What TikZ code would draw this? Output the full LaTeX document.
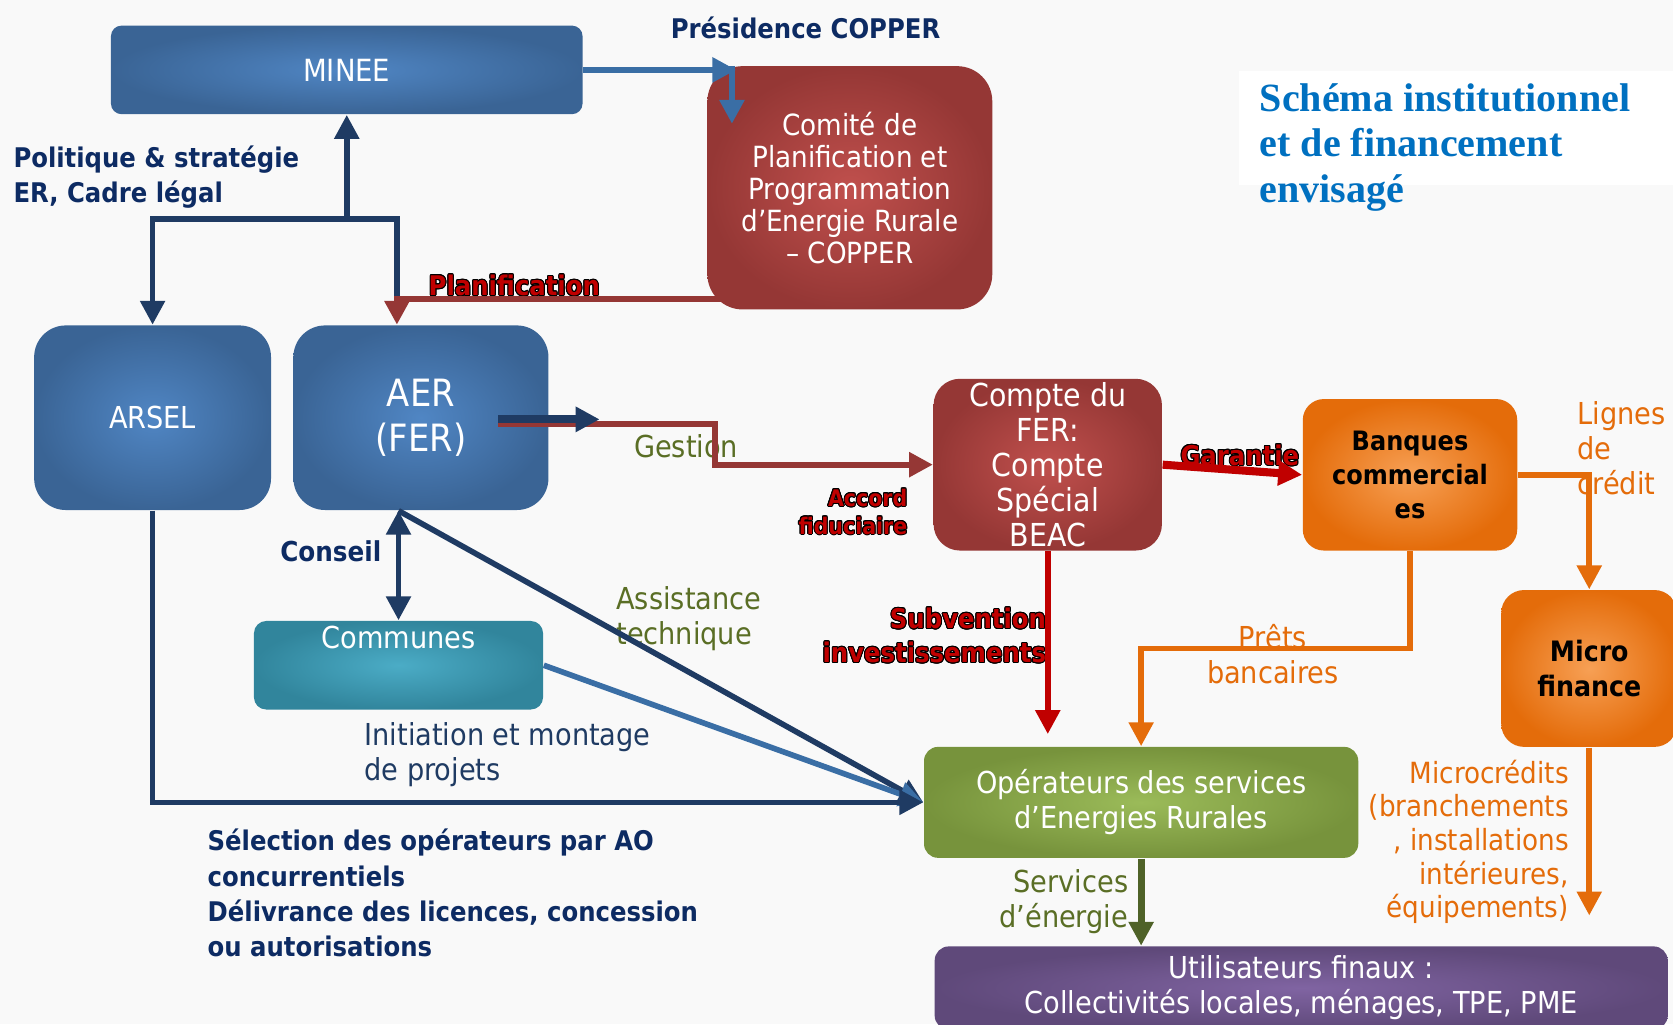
\documentclass[tikz,border=0pt]{standalone}
\usepackage{fontspec}
\setmainfont{DejaVuSansCondensed}[Extension=.ttf, BoldFont=DejaVuSansCondensed-Bold]
\newfontfamily\titlefont{Liberation Serif}
\usepackage{contour}
\contourlength{0.28pt}
\usetikzlibrary{arrows.meta}

\definecolor{navytxt}{HTML}{0D2B63}
\definecolor{navyline}{HTML}{1F3B63}
\definecolor{steelc}{HTML}{3A6EA5}
\definecolor{blueout}{HTML}{3A6495}
\definecolor{bluein}{HTML}{5086C4}
\definecolor{redout}{HTML}{953735}
\definecolor{redin}{HTML}{C0504D}
\definecolor{orout}{HTML}{E46C0A}
\definecolor{orin}{HTML}{F7A055}
\definecolor{grout}{HTML}{77933C}
\definecolor{grin}{HTML}{9BBB59}
\definecolor{puout}{HTML}{5F497A}
\definecolor{puin}{HTML}{8064A2}
\definecolor{teout}{HTML}{31859C}
\definecolor{tein}{HTML}{4BACC6}
\definecolor{darkred}{HTML}{953735}
\definecolor{brightred}{HTML}{C00000}
\definecolor{orangec}{HTML}{E46C0A}
\definecolor{olivel}{HTML}{4F6228}
\definecolor{olivetxt}{HTML}{5A6E25}
\definecolor{titleblue}{HTML}{0070C0}
\definecolor{bgc}{HTML}{F9F9F9}

\newcommand{\dpx}{0.3036pt}
\newcommand{\regf}{\fontsize{8.6}{10}\selectfont}
\newcommand{\boldf}{\fontsize{7.7}{10}\selectfont\bfseries}
\newcommand{\outl}[1]{\contour{black}{#1}}

\begin{document}
\begin{tikzpicture}[x=\dpx, y=-\dpx, >={Triangle[length=6.8pt,width=6.8pt]},
    boxsize/.style 2 args={minimum width=#1*\dpx, minimum height=#2*\dpx},
    anybox/.style={shade, align=center, text=white, inner sep=0pt, font=\regf},
    bluebox/.style={anybox, inner color=bluein, outer color=blueout},
    redbox/.style={anybox, inner color=redin, outer color=redout},
    orbox/.style={anybox, inner color=orin, outer color=orout, text=black},
    greenbox/.style={anybox, inner color=grin, outer color=grout},
    purplebox/.style={anybox, inner color=puin, outer color=puout},
    tealbox/.style={anybox, inner color=tein, outer color=teout},
    lbl/.style={inner sep=0pt, font=\regf},
    navyarr/.style={->, navyline, line width=1.6pt},
    orarr/.style={->, orangec, line width=1.6pt},
    redarr/.style={->, brightred, line width=1.6pt},
    dredarr/.style={->, darkred, line width=1.7pt}]
    \useasboundingbox (0,0) rectangle (1568,960);
    \fill[bgc] (0,0) rectangle (1568,960);
    \fill[white] (1161,67) rectangle (1568,173);

    % boxes
    \node[bluebox, boxsize={442}{83}, rounded corners=3pt, font=\fontsize{8.7}{10}\selectfont] (minee) at (325,65.5) {MINEE};
    \node[redbox, boxsize={267}{228}, rounded corners=10pt, font=\fontsize{8.3}{9.1}\selectfont] (copper) at (796.5,176) {Comité de\\Planification et\\Programmation\\d’Energie Rurale\\– COPPER};
    \node[bluebox, boxsize={222}{173}, rounded corners=9pt] (arsel) at (143,391.5) {ARSEL};
    \node[bluebox, boxsize={239}{173}, rounded corners=9pt, font=\fontsize{10.7}{12.8}\selectfont] (aer) at (394.5,391.5) {AER\\(FER)};
    \node[redbox, boxsize={214}{161}, rounded corners=7.5pt, font=\fontsize{9}{9.9}\selectfont] (fer) at (982,435.5) {Compte du\\FER:\\Compte\\Spécial\\BEAC};
    \node[orbox, boxsize={201}{142}, rounded corners=6pt, font=\fontsize{7.6}{9.6}\selectfont\bfseries] (banques) at (1321.5,445) {Banques\\commercial\\es};
    \node[orbox, boxsize={165}{147}, rounded corners=6.5pt, font=\fontsize{8}{10}\selectfont\bfseries] (micro) at (1489.5,626.5) {Micro\\finance};
    \node[tealbox, boxsize={271}{83}, rounded corners=3.5pt, text depth=52*\dpx] (communes) at (373.5,623.5) {Communes};
    \node[greenbox, boxsize={407}{104}, rounded corners=4pt] (operateurs) at (1069.5,752) {Opérateurs des services\\d’Energies Rurales};
    \node[purplebox, boxsize={687}{78}, rounded corners=4pt] (users) at (1219.5,926) {Utilisateurs finaux :\\Collectivités locales, ménages, TPE, PME};

    % labels
    \node[lbl, font=\boldf, text=navytxt] (presidence) at (755,26) {Présidence COPPER};
    \node[lbl, font=\boldf, text=navytxt, anchor=west, align=left] (politique) at (12,166) {Politique \& stratégie\\ER, Cadre légal};
    \node[lbl, font=\fontsize{7.7}{10}\selectfont\bfseries, text=brightred] (planif) at (482,268) {\outl{Planification}};
    \node[lbl, text=olivetxt] (gestion) at (643,418) {Gestion};
    \node[lbl, font=\fontsize{6.5}{7.9}\selectfont\bfseries, text=brightred, anchor=east, align=right] (accord) at (851,480) {\outl{Accord}\\\outl{fiduciaire}};
    \node[lbl, font=\fontsize{7.7}{10}\selectfont\bfseries, text=brightred] (garantie) at (1162,427) {\outl{Garantie}};
    \node[lbl, text=orangec, anchor=west, align=left] (lignes) at (1478,420) {Lignes\\de\\crédit};
    \node[lbl, text=orangec, align=center] (prets) at (1193,613) {Prêts\\bancaires};
    \node[lbl, font=\fontsize{7.7}{9.7}\selectfont\bfseries, text=brightred, anchor=east, align=right] (subv) at (981,596) {\outl{Subvention}\\\outl{investissements}};
    \node[lbl, font=\fontsize{8.3}{9.6}\selectfont, text=orangec, anchor=east, align=right] (microcredits) at (1471,789) {Microcrédits\\(branchements\\, installations\\intérieures,\\équipements)};
    \node[lbl, text=olivetxt, anchor=east, align=right] (services) at (1058,845) {Services\\d’énergie};
    \node[lbl, font=\fontsize{7.8}{10}\selectfont\bfseries, text=navytxt] (conseil) at (310,517) {Conseil};
    \node[lbl, text=olivetxt, anchor=west, align=left] (assist) at (577,580) {Assistance\\technique};
    \node[lbl, text=navyline, anchor=west, align=left] (initiation) at (341,707) {Initiation et montage\\de projets};
    \node[lbl, font=\boldf, text=navytxt, anchor=west, align=left] (selection) at (194,837) {Sélection des opérateurs par AO\\concurrentiels\\Délivrance des licences, concession\\ou autorisations};
    \node[lbl, font=\titlefont\bfseries\fontsize{11.4}{12.9}\selectfont, text=titleblue, anchor=west, align=left] (title) at (1180,138) {Schéma institutionnel\\et de financement\\envisagé};

    % connectors
    \coordinate (presTip) at (690,65.5);
    \coordinate (presJ) at (686,62);
    \coordinate (copIn) at (686,116);
    \coordinate (fork) at (325,205);
    \coordinate (planJ) at (372,280);
    \coordinate (planStart) at (680,280);
    \coordinate (gestStart) at (467,397);
    \coordinate (gestTip) at (562,397);
    \coordinate (subvTip) at (982,688);
    \coordinate (mcTip) at (1489.5,858);

    \draw[->, steelc, line width=1.9pt] (minee.east) -- (presTip);
    \draw[->, steelc, line width=1.9pt] (presJ) -- (copIn);
    \draw[navyarr] (fork) -- (minee.south);
    \draw[navyarr] (fork) -| (arsel.north);
    \draw[navyline, line width=1.6pt] (fork) -| (planJ);
    \draw[dredarr] (planStart) -- (planJ) -- (planJ |- aer.north);
    \draw[dredarr] (gestStart) -- ++(203,0) |- (fer.west);
    \draw[navyarr, line width=2.3pt] ([yshift=1.2pt]gestStart) -- ([yshift=1.2pt]gestTip);
    \draw[redarr, line width=2.3pt] (fer.east) -- (banques.west);
    \draw[orarr] (banques.east) -| (micro.north);
    \draw[orarr] (micro.south) -- (mcTip);
    \draw[orarr] (banques.south) -- ++(0,91) -| (operateurs.north);
    \draw[redarr] (fer.south) -- (subvTip);
    \draw[->, olivel, line width=2pt] (operateurs.south) -- (operateurs.south |- users.north);
    \draw[navyarr, <->] (communes.north |- aer.south) -- (communes.north);
    \draw[navyarr] (communes.north |- aer.south) -- (operateurs.west);
    \draw[->, steelc, line width=1.6pt] (communes.east) -- (operateurs.west);
    \draw[navyarr] (arsel.south) |- (operateurs.west);
\end{tikzpicture}
\end{document}
